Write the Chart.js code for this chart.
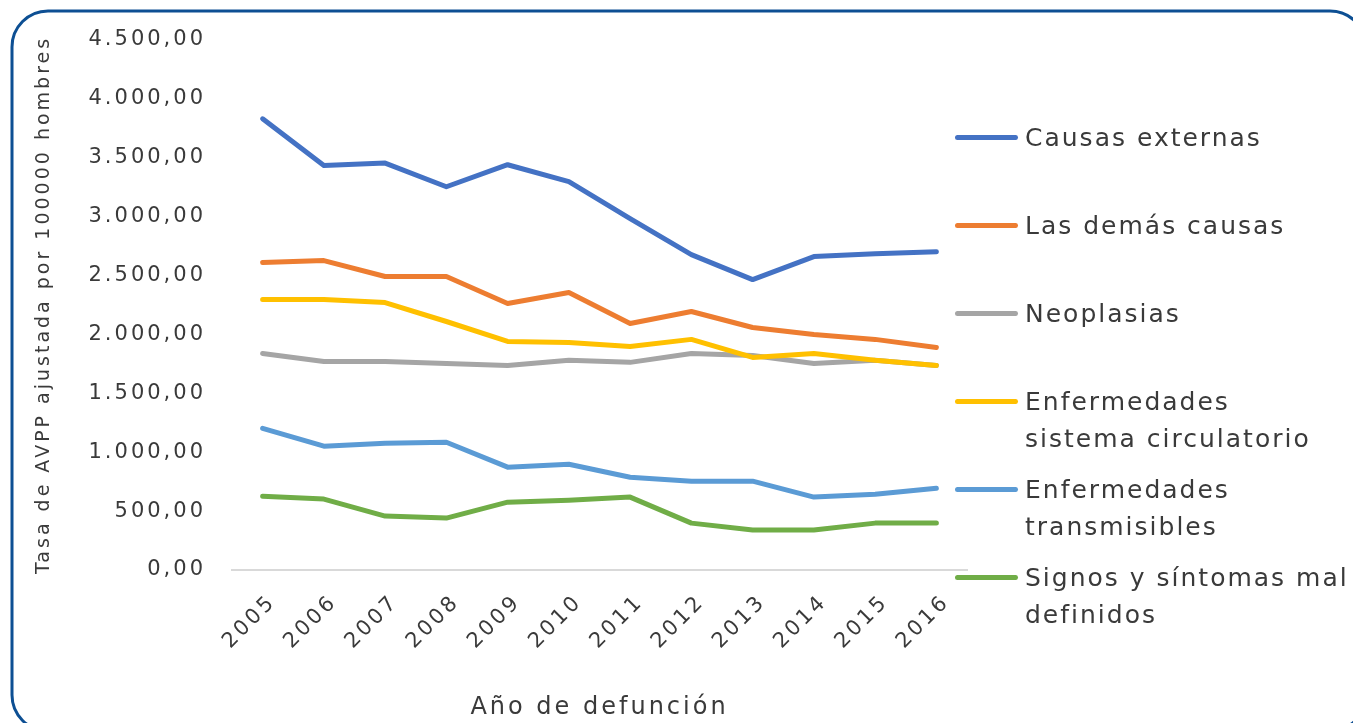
<!DOCTYPE html>
<html lang="es">
<head>
<meta charset="utf-8">
<title>Tasa de AVPP ajustada por 100000 hombres</title>
<script src="https://cdn.jsdelivr.net/npm/chart.js@4.4.1/dist/chart.umd.min.js"></script>
<style>
  html, body { margin: 0; padding: 0; background: #ffffff; overflow: hidden; }
  body { width: 1353px; height: 723px; position: relative; }
  #chart { position: absolute; left: 0; top: 0; }
  #legend { position: absolute; left: 0; top: 0; width: 1353px; height: 723px; overflow: hidden; }
  .item { position: absolute; left: 955px; }
  .swatch { position: absolute; left: 0; width: 63px; height: 5px; border-radius: 3px; }
  .text {
    position: absolute; left: 70px; white-space: pre;
    font-family: "DejaVu Sans", sans-serif; font-size: 25px; letter-spacing: 2px;
    line-height: 37px; color: #3a3a3a;
  }
</style>
</head>
<body>
<canvas id="chart" width="1353" height="723"></canvas>
<div id="legend"></div>
<script>
// Años de defunción
const years = ['2005', '2006', '2007', '2008', '2009', '2010', '2011', '2012', '2013', '2014', '2015', '2016'];

// Nombres de las series (salto de línea como en la leyenda)
const seriesNames = [
  'Causas externas',
  'Las demás causas',
  'Neoplasias',
  'Enfermedades\nsistema circulatorio',
  'Enfermedades\ntransmisibles',
  'Signos y síntomas mal\ndefinidos'
];

// Tasa de AVPP ajustada por 100000 hombres
const causasExternas = [3831, 3435, 3455, 3254, 3441, 3297, 2983, 2678, 2466, 2661, 2686, 2703];
const lasDemasCausas = [2610, 2627, 2492, 2492, 2263, 2356, 2093, 2195, 2059, 2000, 1958, 1890];
const neoplasias = [1839, 1771, 1771, 1754, 1737, 1780, 1763, 1839, 1822, 1754, 1780, 1737];
const sistemaCirculatorio = [2297, 2297, 2271, 2110, 1941, 1932, 1898, 1958, 1805, 1839, 1780, 1737];
const transmisibles = [1203, 1051, 1076, 1085, 873, 898, 788, 754, 754, 619, 644, 695];
const signosSintomas = [627, 602, 458, 441, 576, 593, 619, 398, 339, 339, 398, 398];

const seriesColors = ['#4472C4', '#ED7D31', '#A5A5A5', '#FFC000', '#5B9BD5', '#70AD47'];
const seriesValues = [causasExternas, lasDemasCausas, neoplasias, sistemaCirculatorio, transmisibles, signosSintomas];

// Formato numérico: 4.500,00
function formatoEs(v) {
  const fixed = Number(v).toFixed(2);
  const [ent, dec] = fixed.split('.');
  return ent.replace(/\B(?=(\d{3})+(?!\d))/g, '.') + ',' + dec;
}

const FONT = '"DejaVu Sans", sans-serif';
const TEXT = '#3a3a3a';

// Marco redondeado alrededor del gráfico y espaciado de letras del lienzo
const framePlugin = {
  id: 'frame',
  beforeDraw(chart) {
    const ctx = chart.ctx;
    ctx.save();
    ctx.strokeStyle = '#0d4f93';
    ctx.lineWidth = 3;
    ctx.beginPath();
    ctx.roundRect(12, 11, 1354, 720, 36);
    ctx.stroke();
    ctx.restore();
    ctx.letterSpacing = '3px';
  }
};

const datasets = seriesNames.map((name, i) => ({
  label: name,
  data: seriesValues[i],
  borderColor: seriesColors[i],
  backgroundColor: seriesColors[i],
  borderWidth: 5,
  borderCapStyle: 'round',
  borderJoinStyle: 'round',
  pointRadius: 0,
  pointHoverRadius: 0,
  tension: 0,
  fill: false,
  order: seriesNames.length - i
}));

const chart = new Chart(document.getElementById('chart'), {
  type: 'line',
  data: { labels: years, datasets },
  options: {
    responsive: false,
    animation: false,
    devicePixelRatio: 1,
    layout: { padding: { left: 30, right: 386, top: 40, bottom: 0 } },
    plugins: { legend: { display: false }, tooltip: { enabled: false } },
    scales: {
      x: {
        type: 'category',
        offset: true,
        grid: { display: false, drawTicks: false },
        border: { display: true, color: '#d9d9d9', width: 2 },
        ticks: {
          color: TEXT, font: { family: FONT, size: 21 },
          minRotation: 45, maxRotation: 45, padding: 20, labelOffset: 10, autoSkip: false
        },
        title: {
          display: true, text: 'Año de defunción', color: TEXT,
          font: { family: FONT, size: 24 }, padding: { top: 0, bottom: 1 }
        },
        afterFit(scale) { scale.height = 153; }
      },
      y: {
        min: 0, max: 4500,
        grid: { display: false, drawTicks: false },
        border: { display: false },
        ticks: {
          stepSize: 500, color: TEXT, font: { family: FONT, size: 21 }, padding: 26,
          callback: (v) => formatoEs(v)
        },
        title: {
          display: true, text: 'Tasa de AVPP ajustada por 100000 hombres', color: TEXT,
          font: { family: FONT, size: 19 }, padding: { top: 3, bottom: 4 }
        },
        afterFit(scale) { scale.width = 202; }
      }
    }
  },
  plugins: [framePlugin]
});

// Leyenda a la derecha, generada a partir de las series
const legend = document.getElementById('legend');
chart.data.datasets.forEach((ds, i) => {
  const centerY = 137 + 88 * i;
  const item = document.createElement('div');
  item.className = 'item';
  item.style.top = centerY + 'px';
  const sw = document.createElement('div');
  sw.className = 'swatch';
  sw.style.background = ds.borderColor;
  sw.style.top = '-2.5px';
  const tx = document.createElement('div');
  tx.className = 'text';
  tx.style.top = '-18.5px';
  tx.textContent = ds.label;
  item.appendChild(sw);
  item.appendChild(tx);
  legend.appendChild(item);
});
</script>
</body>
</html>
